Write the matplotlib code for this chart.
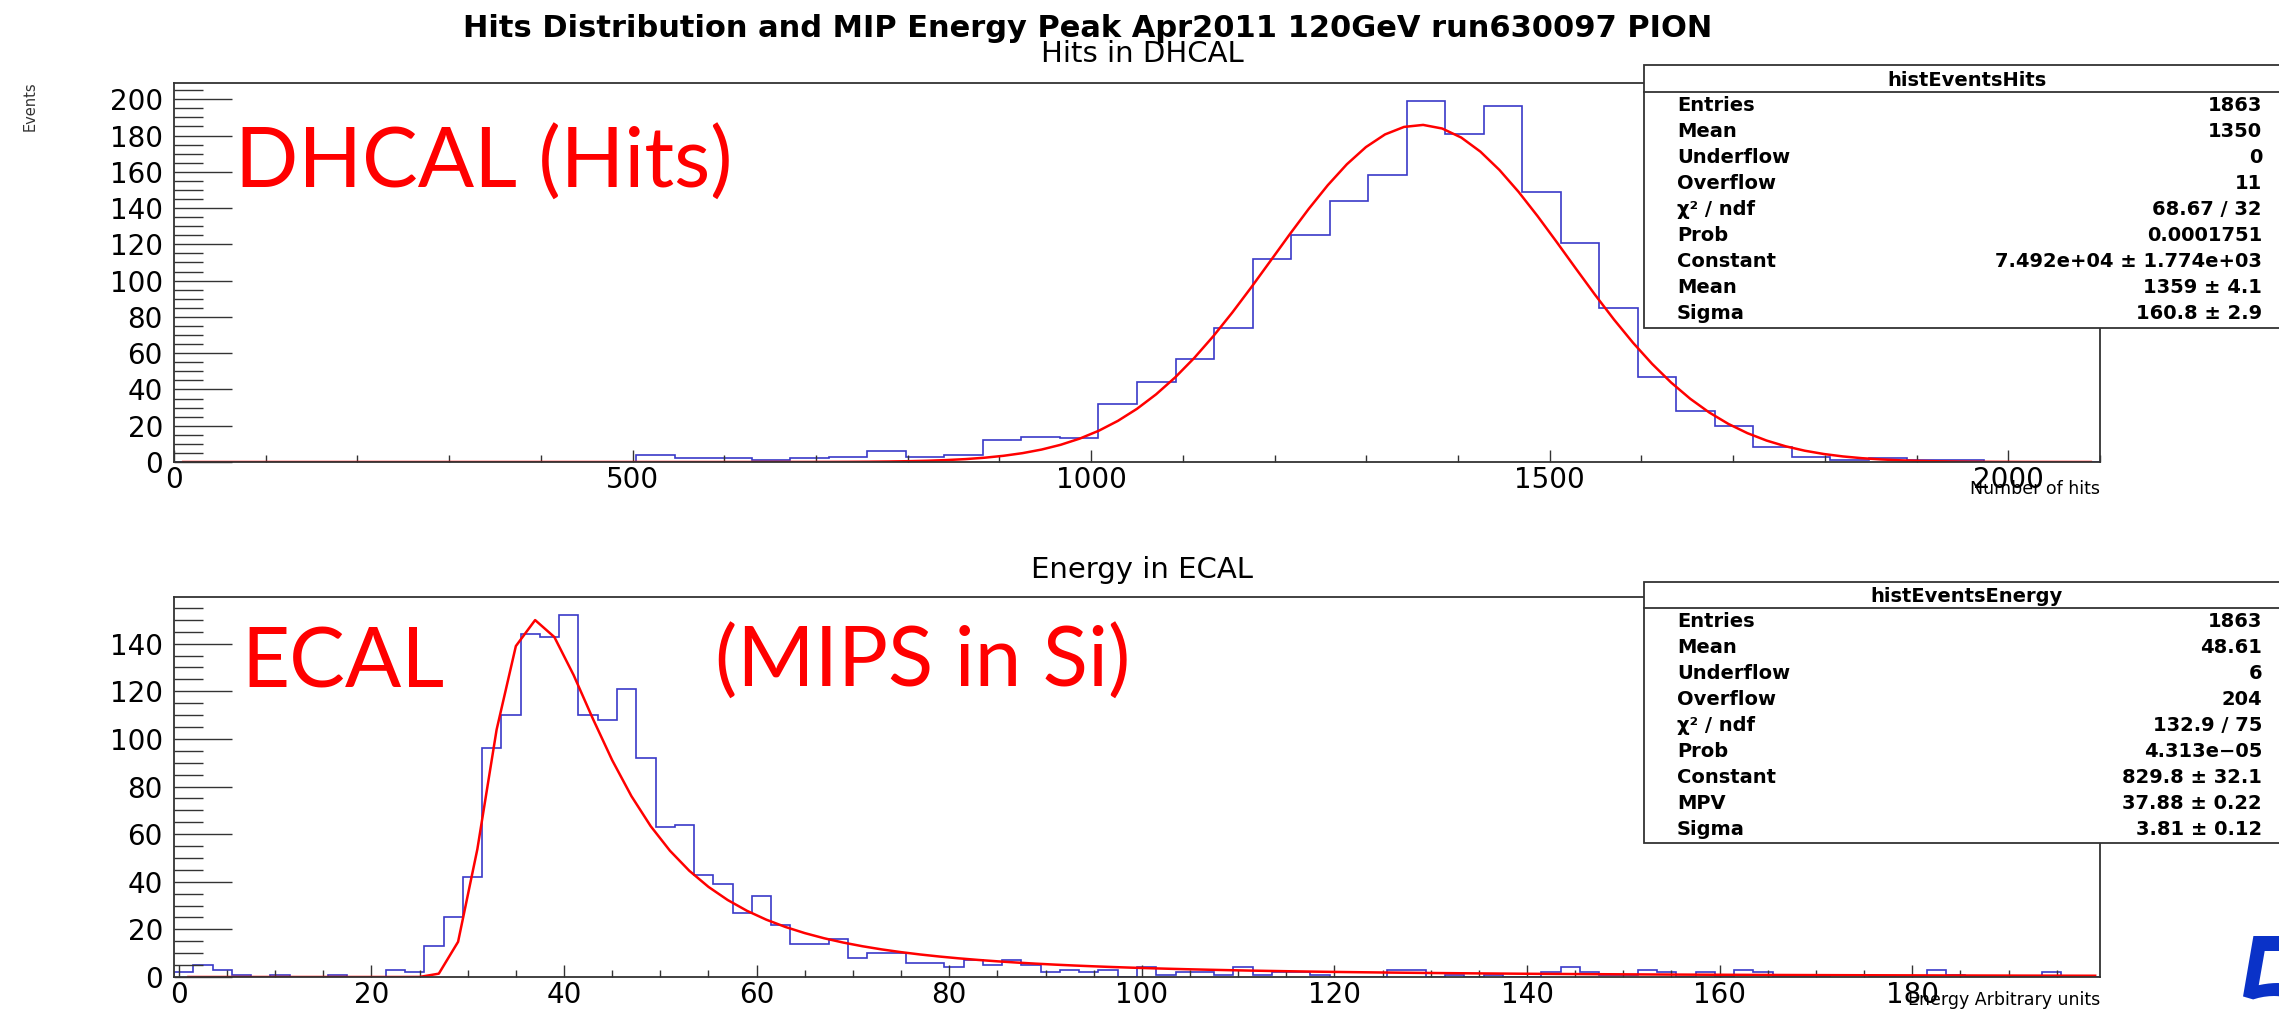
import numpy as np
import matplotlib
matplotlib.use("Agg")
import matplotlib.pyplot as plt
from matplotlib.patches import Rectangle
from matplotlib.ticker import MultipleLocator

# DHCAL: number of hits per event, 50 bins of 42 hits from 0 to 2100
hits_edges = np.linspace(0, 2100, 51)
hits_counts = [0, 0, 0, 0, 0, 0, 0, 0, 0, 0,
               0, 0, 4, 2, 2, 1, 2, 3, 6, 3,
               4, 12, 14, 13, 32, 44, 57, 74, 112, 125,
               144, 158, 199, 181, 196, 149, 121, 85, 47, 28,
               20, 8, 3, 1, 2, 1, 1, 0, 0, 0]
gaus_const, gaus_mean, gaus_sigma = 7.492e4, 1359.0, 160.8
hits_fit_range = (10, 2090)

# ECAL: energy per event, 100 bins of 2 units from -0.5 to 199.5
energy_edges = np.linspace(-0.5, 199.5, 101)
energy_counts = [2, 5, 3, 1, 0, 1, 0, 0, 1, 0,
                 0, 3, 2, 13, 25, 42, 96, 110, 144, 143,
                 152, 110, 108, 121, 92, 63, 64, 43, 39, 27,
                 34, 22, 14, 14, 16, 8, 10, 10, 6, 6,
                 4, 7, 5, 7, 5, 2, 3, 2, 3, 0,
                 4, 1, 2, 2, 1, 4, 1, 2, 2, 1,
                 0, 0, 0, 3, 3, 0, 1, 0, 1, 0,
                 0, 2, 4, 2, 1, 1, 3, 2, 0, 2,
                 0, 3, 2, 0, 0, 0, 1, 1, 0, 0,
                 0, 3, 1, 0, 0, 0, 0, 2, 0, 0]
landau_const, landau_mpv, landau_sigma = 829.8, 37.88, 3.81
energy_fit_range = (1, 199)

hits_stats = [("Entries", "1863"), ("Mean", "1350"), ("Underflow", "0"),
              ("Overflow", "11"), ("χ² / ndf", "68.67 / 32"),
              ("Prob", "0.0001751"), ("Constant", "7.492e+04 ± 1.774e+03"),
              ("Mean", "1359 ± 4.1"), ("Sigma", "160.8 ± 2.9")]
energy_stats = [("Entries", "1863"), ("Mean", "48.61"), ("Underflow", "6"),
                ("Overflow", "204"), ("χ² / ndf", "132.9 / 75"),
                ("Prob", "4.313e\u221205"), ("Constant", "829.8 ± 32.1"),
                ("MPV", "37.88 ± 0.22"), ("Sigma", "3.81 ± 0.12")]


def gausn(x, const, mean, sigma):
    return const / (np.sqrt(2 * np.pi) * sigma) * np.exp(-0.5 * ((x - mean) / sigma) ** 2)


def landau(x, mpv, sigma):
    # Landau density, inverse Laplace integral along the line Re(s) = saddle point
    lam = (np.asarray(x, dtype=float) - mpv) / sigma
    y = np.linspace(0.0, 40.0, 40001)
    out = np.empty(lam.shape)
    for i, l in enumerate(lam):
        s = np.exp(-l - 1.0) + 1j * y
        out[i] = np.trapezoid(np.exp(s * np.log(s) + l * s).real, y) / np.pi
    return out


W, H = 2279, 1010
fig = plt.figure(figsize=(W / 100, H / 100), dpi=100)
fig.patch.set_facecolor("white")

BLUE = "#3a3ac8"
RED = "#ff0000"
FRAME = "#333333"


def fx(px):
    return px / W


def fy(py):
    return 1 - py / H


def style_axes(ax, xmajor, xminor):
    for sp in ax.spines.values():
        sp.set_color(FRAME)
        sp.set_linewidth(1.3)
    ax.xaxis.set_major_locator(MultipleLocator(xmajor))
    ax.xaxis.set_minor_locator(MultipleLocator(xminor))
    ax.yaxis.set_major_locator(MultipleLocator(20))
    ax.yaxis.set_minor_locator(MultipleLocator(5))
    ax.tick_params(axis="y", which="major", direction="in", length=42, width=1.0,
                   color=FRAME, labelsize=20, pad=8, right=False)
    ax.tick_params(axis="y", which="minor", direction="in", length=21, width=1.0,
                   color=FRAME, right=False)
    ax.tick_params(axis="x", which="major", direction="in", length=8.5, width=1.0,
                   color=FRAME, labelsize=20, pad=3, top=False)
    ax.tick_params(axis="x", which="minor", direction="in", length=5, width=1.0,
                   color=FRAME, top=False)


# top pad: hits in DHCAL
ax1 = fig.add_axes([fx(174), fy(462), fx(2100) - fx(174), fy(83) - fy(462)])
ax1.stairs(hits_counts, hits_edges, color=BLUE, lw=1.2)
xg = np.linspace(*hits_fit_range, 101)
ax1.plot(xg, gausn(xg, gaus_const, gaus_mean, gaus_sigma), color=RED, lw=1.8)
ax1.set_xlim(hits_edges[0], hits_edges[-1])
ax1.set_ylim(0, 1.05 * max(hits_counts))
style_axes(ax1, 500, 100)

# bottom pad: energy in ECAL
ax2 = fig.add_axes([fx(174), fy(977), fx(2100) - fx(174), fy(597) - fy(977)])
ax2.stairs(energy_counts, energy_edges, color=BLUE, lw=1.2)
xl = np.linspace(*energy_fit_range, 100)
ax2.plot(xl, landau_const * landau(xl, landau_mpv, landau_sigma), color=RED, lw=1.8)
ax2.set_xlim(energy_edges[0], energy_edges[-1])
ax2.set_ylim(0, 1.05 * max(energy_counts))
style_axes(ax2, 20, 5)

# titles and axis titles
fig.text(fx(1088), fy(37), "Hits Distribution and MIP Energy Peak Apr2011 120GeV run630097 PION",
         ha="center", va="baseline", fontsize=22, fontweight="bold")
fig.text(fx(1142), fy(62), "Hits in DHCAL", ha="center", va="baseline", fontsize=21)
fig.text(fx(1142), fy(578), "Energy in ECAL", ha="center", va="baseline", fontsize=21)
fig.text(fx(30), fy(106), "Events", rotation=90, ha="center", va="center",
         fontsize=10.5, color=FRAME)
fig.text(fx(2100), fy(494), "Number of hits", ha="right", va="baseline", fontsize=12.5)
fig.text(fx(2100), fy(1005), "Energy Arbitrary units", ha="right", va="baseline", fontsize=12.5)


def stats_box(name, rows, top, sep, bottom):
    fig.add_artist(Rectangle((fx(1644), fy(bottom)), fx(2290) - fx(1644), fy(top) - fy(bottom),
                             transform=fig.transFigure, facecolor="white",
                             edgecolor=FRAME, lw=1.3, zorder=5))
    fig.add_artist(plt.Line2D([fx(1644), fx(2290)], [fy(sep), fy(sep)],
                              transform=fig.transFigure, color=FRAME, lw=1.3, zorder=6))
    fig.text(fx(1967), fy((top + sep) / 2 + 7), name, ha="center", va="baseline",
             fontsize=14, fontweight="bold", zorder=7)
    for i, (label, value) in enumerate(rows):
        yb = sep + 19 + 26 * i
        fig.text(fx(1677), fy(yb), label, ha="left", va="baseline",
                 fontsize=14, fontweight="bold", zorder=7)
        fig.text(fx(2262), fy(yb), value, ha="right", va="baseline",
                 fontsize=14, fontweight="bold", zorder=7)


stats_box("histEventsHits", hits_stats, 65, 92, 328)
stats_box("histEventsEnergy", energy_stats, 582, 608, 843)

# slide annotations
fig.text(fx(235), fy(188), "DHCAL (Hits)", ha="left", va="baseline",
         fontsize=60, color=RED, family="Lato")
fig.text(fx(241), fy(687), "ECAL", ha="left", va="baseline",
         fontsize=60, color=RED, family="Lato")
fig.text(fx(715), fy(687), "(MIPS in Si)", ha="left", va="baseline",
         fontsize=60, color=RED, family="Lato")
fig.text(fx(2226), fy(1066), "5", ha="left", va="baseline",
         fontsize=130, color="#0a32c8", family="Lato")

fig.savefig("out.png", dpi=100, facecolor="white")
